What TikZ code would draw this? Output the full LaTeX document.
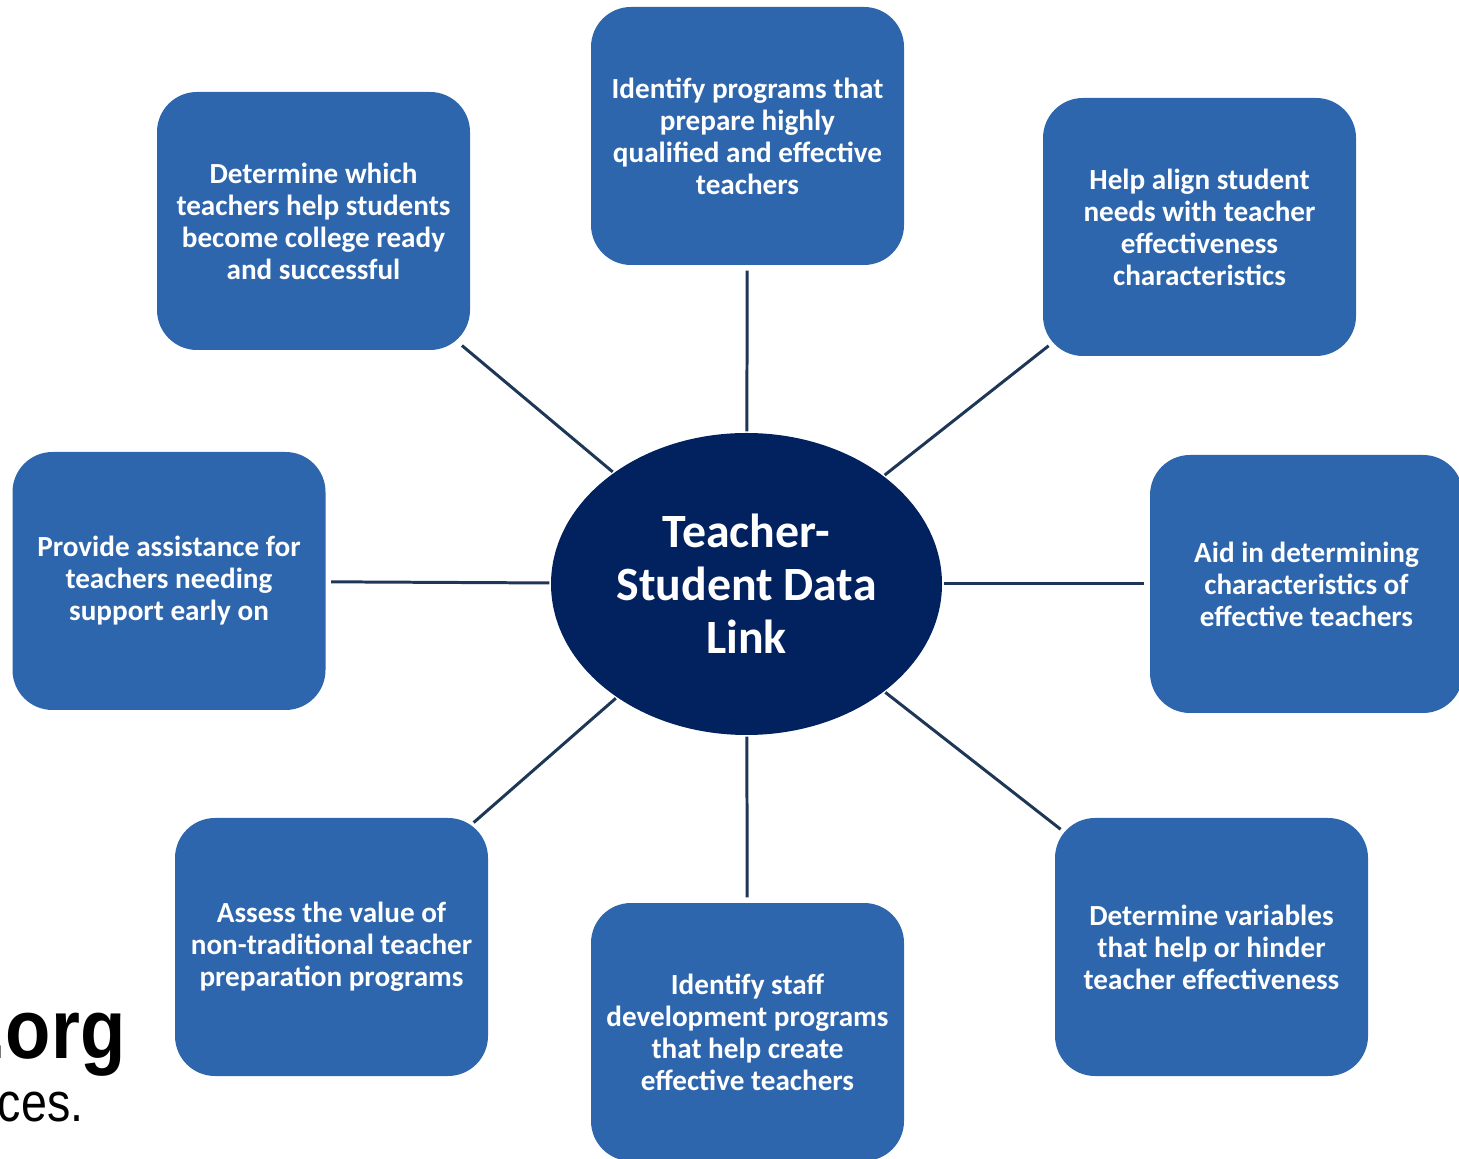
\documentclass[tikz,border=0pt]{standalone}
\usepackage{fontspec}
\setmainfont{Carlito}
\newfontfamily\arialfont{Liberation Sans}
\usetikzlibrary{shapes.geometric}
\definecolor{boxblue}{HTML}{2E66AE}
\definecolor{hubnavy}{HTML}{02215F}
\definecolor{spoke}{HTML}{1F3756}
\tikzset{goal/.style={fill=boxblue,rounded corners=0.4cm,minimum width=3.13cm,minimum height=2.58cm,align=center,text=white,inner sep=0pt,font=\bfseries\fontsize{8.3}{9.1}\selectfont},hub/.style={ellipse,fill=hubnavy,minimum width=3.91cm,minimum height=3.02cm,inner sep=0pt,align=center,text=white,font=\bfseries\fontsize{13.6}{15.1}\selectfont},spokeline/.style={draw=spoke,line width=0.85pt,shorten >=0.05cm,shorten <=0.01cm},diagline/.style={spokeline,shorten >=-0.08cm}}
\begin{document}
\begin{tikzpicture}
\useasboundingbox (0,0) rectangle (14.59,11.58);
\clip (0,0) rectangle (14.59,11.58);
\node[hub] (hub) at (7.465,5.74) {Teacher-\\Student Data\\Link};
\node[goal] (top) at (7.475,10.22) {Identify programs that\\prepare highly\\qualified and effective\\teachers};
\node[goal] (topleft) at (3.135,9.37) {Determine which\\teachers help students\\become college ready\\and successful};
\node[goal] (topright) at (11.995,9.31) {Help align student\\needs with teacher\\effectiveness\\characteristics};
\node[goal] (left) at (1.69,5.77) {Provide assistance for\\teachers needing\\support early on};
\node[goal] (right) at (13.065,5.74) {Aid in determining\\characteristics of\\effective teachers};
\node[goal] (botleft) at (3.315,2.11) {Assess the value of\\non-traditional teacher\\preparation programs};
\node[goal] (bottom) at (7.475,1.26) {Identify staff\\development programs\\that help create\\effective teachers};
\node[goal] (botright) at (12.115,2.11) {Determine variables\\that help or hinder\\teacher effectiveness};
% cut-off text at the lower left
\node[anchor=base east,inner sep=0pt,xscale=0.88,transform shape,font=\arialfont\bfseries\fontsize{24}{28}\selectfont] (org) at (1.26,1.00) {.org};
\node[anchor=base east,inner sep=0pt,xscale=0.85,transform shape,font=\arialfont\fontsize{15.6}{18}\selectfont] (ces) at (0.84,0.365) {ces.};
\draw[spokeline](hub)--(top);\draw[diagline](hub)--(topleft);\draw[diagline](hub)--(topright);
\draw[spokeline](hub)--(left);\draw[spokeline](hub)--(right);
\draw[diagline](hub)--(botleft);\draw[spokeline](hub)--(bottom);\draw[diagline](hub)--(botright);
\end{tikzpicture}
\end{document}
